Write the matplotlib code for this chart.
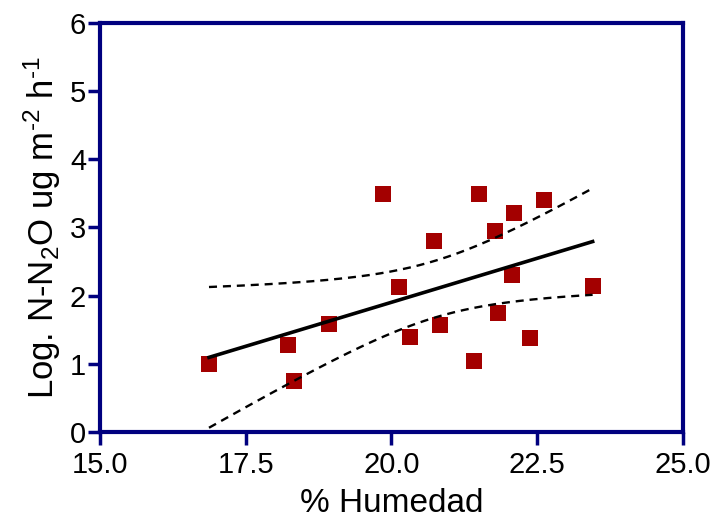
#!/usr/bin/env python3

import matplotlib
matplotlib.use('Agg')
import matplotlib.pyplot as plt
import numpy as np

# soil moisture (%) vs log N-N2O flux
humedad = [16.87, 18.23, 18.33, 18.92, 19.85, 20.13, 20.31, 20.73, 20.83,
           21.41, 21.50, 21.77, 22.10, 21.83, 22.07, 22.38, 22.62, 23.45]
log_n2o = [1.00, 1.28, 0.75, 1.59, 3.49, 2.13, 1.40, 2.80, 1.57,
           1.04, 3.49, 2.95, 3.21, 1.75, 2.30, 1.38, 3.40, 2.14]

x_ticks = [15.0, 17.5, 20.0, 22.5, 25.0]
y_ticks = [0, 1, 2, 3, 4, 5, 6]

T_CRIT = 2.120  # t(0.975, n-2) for n = 18

plt.rcParams['font.family'] = 'Liberation Sans'
plt.rcParams['mathtext.fontset'] = 'custom'
plt.rcParams['mathtext.rm'] = 'Liberation Sans'
plt.rcParams['mathtext.default'] = 'regular'

x = np.array(humedad)
y = np.array(log_n2o)
n = len(x)
slope, intercept = np.polyfit(x, y, 1)
resid = y - (slope * x + intercept)
s = np.sqrt(np.sum(resid ** 2) / (n - 2))
sxx = np.sum((x - x.mean()) ** 2)

# fitted line with 95% confidence band
xf = np.linspace(x.min(), x.max(), 200)
yf = slope * xf + intercept
half = T_CRIT * s * np.sqrt(1.0 / n + (xf - x.mean()) ** 2 / sxx)

fig = plt.figure(figsize=(7.14, 5.26), dpi=100)
ax = fig.add_axes([0.140, 0.1787, 0.8166, 0.7781])

navy = '#00007f'

ax.plot(x, y, 's', color='#a30000', markersize=12, markeredgewidth=0, zorder=2)
ax.plot(xf, yf, color='black', linewidth=2.6, zorder=3)
ax.plot(xf, yf + half, color='black', linewidth=1.7, dashes=(3.4, 2.5), zorder=3)
ax.plot(xf, yf - half, color='black', linewidth=1.7, dashes=(3.4, 2.5), zorder=3)

ax.set_xlim(15, 25)
ax.set_ylim(0, 6)
ax.set_xticks(x_ticks)
ax.set_xticklabels(['%.1f' % v for v in x_ticks])
ax.set_yticks(y_ticks)

for sp in ax.spines.values():
    sp.set_color(navy)
    sp.set_linewidth(3)

ax.tick_params(axis='both', direction='out', length=9, width=2.5, color=navy,
               labelsize=21, labelcolor='black')
ax.tick_params(axis='y', pad=1)
ax.tick_params(axis='x', pad=5)

ax.set_xlabel('% Humedad', fontsize=24, labelpad=6)
ax.set_ylabel(r'Log. N-N$_2$O ug m$^{\text{-}2}$ h$^{\text{-}1}$', fontsize=25, labelpad=5)

plt.savefig('out.png', dpi=100)
